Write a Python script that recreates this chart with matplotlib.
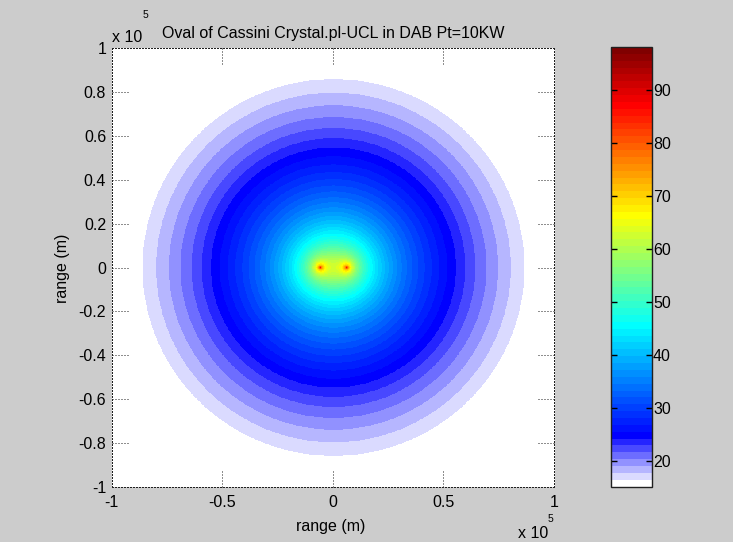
import numpy as np
import matplotlib
matplotlib.use('Agg')
import matplotlib.pyplot as plt
from matplotlib.colors import ListedColormap, Normalize
from matplotlib.transforms import blended_transform_factory

# ---------------- data / parameters ----------------
tx_x_km = -6.0          # transmitter position on x axis (km)
rx_x_km = 6.0           # receiver position on x axis (km)
snr_const_db = 93.8     # SNR (dB) when R1*R2 = 1 km^2
range_lim_m = 1.0e5
grid_n = 1001
cbar_min = 15.1
cbar_max = 98.1
n_colors = 64
n_fade = 8
x_ticks = [-1, -0.5, 0, 0.5, 1]
x_ticklabels = ['-1', '-0.5', '0', '0.5', '1']
y_ticks = [-1, -0.8, -0.6, -0.4, -0.2, 0, 0.2, 0.4, 0.6, 0.8, 1]
y_ticklabels = ['-1', '-0.8', '-0.6', '-0.4', '-0.2', '0', '0.2', '0.4', '0.6', '0.8', '1']
cbar_ticks = [20, 30, 40, 50, 60, 70, 80, 90]
title = "Oval of Cassini Crystal.pl-UCL in DAB Pt=10KW"
xlabel = "range (m)"
ylabel = "range (m)"
scale_exp = 5

# ---------------- colormap (MATLAB jet with white fade) ----------------
def matlab_jet(m):
    n = int(np.ceil(m / 4))
    u = np.concatenate([np.arange(1, n + 1) / n, np.ones(n - 1), np.arange(n, 0, -1) / n])
    g = int(np.ceil(n / 2)) - (1 if m % 4 == 1 else 0) + np.arange(1, len(u) + 1)
    r = g + n
    b = g - n
    J = np.zeros((m, 3))
    for idx, col in ((r, 0), (g, 1), (b, 2)):
        ok = (idx >= 1) & (idx <= m)
        J[idx[ok] - 1, col] = u[ok]
    return J

J = matlab_jet(n_colors)
t = np.linspace(1, 0, n_fade)
J[:n_fade, 0] = t
J[:n_fade, 1] = t
J[:n_fade, 2] = 1.0
cmap = ListedColormap(J)
cmap.set_under('white')
cmap.set_over(J[-1])

# ---------------- field ----------------
x = np.linspace(-range_lim_m, range_lim_m, grid_n)
X, Y = np.meshgrid(x, x)
R1 = np.hypot(X - tx_x_km * 1e3, Y) / 1e3
R2 = np.hypot(X - rx_x_km * 1e3, Y) / 1e3
Z = snr_const_db - 20 * np.log10(np.maximum(R1 * R2, 1e-6))

# ---------------- figure ----------------
plt.rcParams['font.family'] = ['Liberation Sans', 'DejaVu Sans']
FS = 11.5
FS_SUP = 7.5
W, H = 733, 542
fig = plt.figure(figsize=(W / 100, H / 100), dpi=100, facecolor='#cccccc')

def fx(px):
    return px / W

def fy(py):
    return 1 - py / H

ax_l, ax_r, ax_t, ax_b = 111.7, 554.0, 48.3, 486.7
ax = fig.add_axes([fx(ax_l), fy(ax_b), fx(ax_r - ax_l), (ax_b - ax_t) / H])
ax.set_facecolor('white')
norm = Normalize(vmin=cbar_min, vmax=cbar_max)
im = ax.imshow(Z, origin='lower', extent=[-range_lim_m, range_lim_m, -range_lim_m, range_lim_m],
               cmap=cmap, norm=norm, interpolation='nearest', aspect='auto')
ax.set_xlim(-range_lim_m, range_lim_m)
ax.set_ylim(-range_lim_m, range_lim_m)
sc = 10 ** scale_exp
ax.set_xticks([v * sc for v in x_ticks])
ax.set_xticklabels(x_ticklabels)
ax.set_yticks([v * sc for v in y_ticks])
ax.set_yticklabels(y_ticklabels)
ax.tick_params(axis='y', length=0, labelsize=FS, colors='black', pad=4)
ax.tick_params(axis='x', length=0, labelsize=FS, colors='black', pad=6)

for sp in ax.spines.values():
    sp.set_linestyle((0, (1, 2)))
    sp.set_linewidth(0.72)
    sp.set_color('#202020')

# dotted tick marks on all sides
tl_x = 16 / (ax_b - ax_t)
tl_y = 16 / (ax_r - ax_l)
trx = blended_transform_factory(ax.transData, ax.transAxes)
try_ = blended_transform_factory(ax.transAxes, ax.transData)
dot = dict(color='#202020', lw=0.72, ls=(0, (1, 2)), clip_on=False)
for v in x_ticks:
    ax.plot([v * sc, v * sc], [0, tl_x], transform=trx, **dot)
    ax.plot([v * sc, v * sc], [1, 1 - tl_x], transform=trx, **dot)
for v in y_ticks:
    ax.plot([0, tl_y], [v * sc, v * sc], transform=try_, **dot)
    ax.plot([1, 1 - tl_y], [v * sc, v * sc], transform=try_, **dot)

# labels
fig.text(fx(331), fy(526), xlabel, fontsize=FS, ha='center', va='center')
fig.text(fx(62), fy(268), ylabel, fontsize=FS, ha='center', va='center', rotation=90)
fig.text(fx(333.3), fy(38.3), title, fontsize=FS, ha='center', va='baseline')
fig.text(fx(112), fy(41.7), 'x 10', fontsize=FS, ha='left', va='baseline')
fig.text(fx(142.5), fy(18.3), str(scale_exp), fontsize=FS_SUP, ha='left', va='baseline')
fig.text(fx(517.5), fy(538), 'x 10', fontsize=FS, ha='left', va='baseline')
fig.text(fx(548), fy(521.7), str(scale_exp), fontsize=FS_SUP, ha='left', va='baseline')

# colorbar
cb_l, cb_r = 611.0, 651.7
cax = fig.add_axes([fx(cb_l), fy(ax_b), fx(cb_r - cb_l), (ax_b - 47.0) / H])
cb = fig.colorbar(im, cax=cax, extend='neither')
cb.set_ticks(cbar_ticks)
cb.set_ticklabels([str(v) for v in cbar_ticks])
cax.tick_params(direction='in', length=4, width=1, left=True, right=True,
                labelsize=FS, pad=1)
cb.outline.set_linewidth(1.0)
cb.outline.set_edgecolor('#202020')

fig.savefig('out.png', dpi=100, facecolor=fig.get_facecolor())
